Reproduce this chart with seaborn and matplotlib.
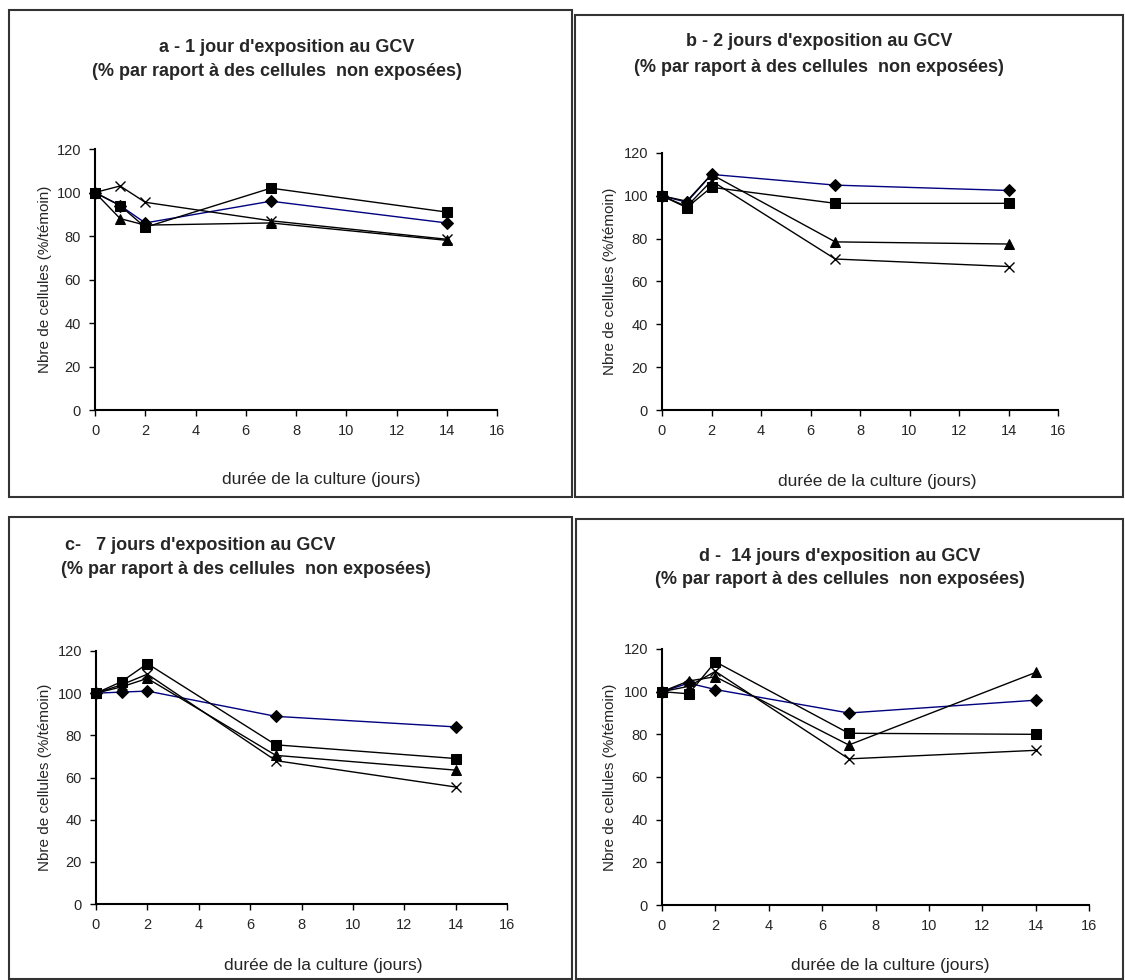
import matplotlib
matplotlib.use("Agg")
import matplotlib.pyplot as plt
import seaborn as sns
from matplotlib.patches import Rectangle

# Données (% par rapport au témoin)
jours = [0, 1, 2, 7, 14]

a_losange = [100, 94, 86, 96, 86]
a_carre = [100, 94, 84, 102, 91]
a_triangle = [100, 88, 85, 86, 78]
a_croix = [100, 103, 95.5, 87, 78.5]

b_losange = [100, 97, 110, 105, 102.5]
b_carre = [100, 94.5, 104, 96.5, 96.5]
b_triangle = [100, 97.5, 110, 78.5, 77.5]
b_croix = [100, 95, 107, 70.5, 67]

c_losange = [100, 100.5, 101, 89, 84]
c_carre = [100, 105.5, 114, 75.5, 69]
c_triangle = [100, 103, 107, 70.5, 63.5]
c_croix = [100, 104, 109, 68, 55.5]

d_losange = [100, 104, 101, 90, 96]
d_carre = [100, 99, 114, 80.5, 80]
d_triangle = [100, 105, 107, 75, 109]
d_croix = [100, 102.5, 109.5, 68.5, 72.5]

titres_l1 = ["a - 1 jour d'exposition au GCV",
             "b - 2 jours d'exposition au GCV",
             "c-   7 jours d'exposition au GCV",
             "d -  14 jours d'exposition au GCV"]
titre_l2 = "(% par raport à des cellules  non exposées)"

sns.set_style("white")
plt.rcParams['font.family'] = ['Liberation Sans', 'DejaVu Sans']

W, H = 1125, 980
fig = plt.figure(figsize=(W / 100, H / 100), dpi=100)

def fx(px):
    return px / W

def fy(py):
    return 1 - py / H

# cadres des panneaux (pixels: gauche, haut, droite, bas)
cadres = [(9, 10, 572, 497), (575, 15, 1123, 497),
          (9, 517, 572, 979), (576, 519, 1123, 979)]
for l, t, r, b in cadres:
    fig.add_artist(Rectangle((fx(l), fy(b)), fx(r - l), (b - t) / H,
                             transform=fig.transFigure, fill=False,
                             edgecolor='#333333', linewidth=1.5))

# position des axes (pixels: x0, x16, y0, y120)
axes_px = [(95, 497, 410, 149), (662, 1058, 410, 153),
           (96, 507, 904, 651), (662, 1089, 905, 649)]
# titres (pixels: x ligne 1, y ligne 1, x ligne 2, y ligne 2)
titres_pos = [(287, 48, 277, 72), (819, 42, 819, 67),
              (200, 545, 246, 569), (840, 556, 840, 579)]
# étiquettes des axes (pixels: x xlabel, y xlabel, x ylabel)
labels_pos = [(321, 479, 45), (877, 481, 610),
              (323, 965, 45), (890, 965, 610)]

donnees = [(a_losange, a_carre, a_triangle, a_croix),
           (b_losange, b_carre, b_triangle, b_croix),
           (c_losange, c_carre, c_triangle, c_croix),
           (d_losange, d_carre, d_triangle, d_croix)]

for i, (series, (x0, x1, y0, y1)) in enumerate(zip(donnees, axes_px)):
    ax = fig.add_axes([fx(x0), fy(y0), (x1 - x0) / W, (y0 - y1) / H])
    los, car, tri, cro = series
    sns.lineplot(x=jours, y=los, ax=ax, color='#000080', lw=1, marker='D',
                 ms=6, mfc='black', mec='black', clip_on=False)
    sns.lineplot(x=jours, y=car, ax=ax, color='black', lw=1, marker='s',
                 ms=7.5, mfc='black', mec='black', clip_on=False)
    sns.lineplot(x=jours, y=tri, ax=ax, color='black', lw=1, marker='^',
                 ms=7.5, mfc='black', mec='black', clip_on=False)
    sns.lineplot(x=jours, y=cro, ax=ax, color='black', lw=1, marker='x',
                 ms=7, mew=1, mec='black', clip_on=False)
    ax.set_xlim(0, 16)
    ax.set_ylim(0, 120)
    ax.set_xticks(range(0, 17, 2))
    ax.set_yticks(range(0, 121, 20))
    for s in ['top', 'right']:
        ax.spines[s].set_visible(False)
    for s in ['left', 'bottom']:
        ax.spines[s].set_color('black')
        ax.spines[s].set_linewidth(1.5)
    ax.tick_params(direction='out', length=4, width=1, color='black',
                   labelsize=10.5, pad=6, left=True, bottom=True)

    lx, ly, yx = labels_pos[i]
    ax.set_xlabel("durée de la culture (jours)", fontsize=12.5)
    ax.xaxis.label.set_va('center')
    ax.xaxis.set_label_coords((lx - x0) / (x1 - x0), (y0 - ly) / (y0 - y1))
    ax.set_ylabel("Nbre de cellules (%/témoin)", fontsize=11)
    ax.yaxis.label.set_va('center')
    ax.yaxis.set_label_coords((yx - x0) / (x1 - x0), 0.5)

    tx1, ty1, tx2, ty2 = titres_pos[i]
    fig.text(fx(tx1), fy(ty1), titres_l1[i], ha='center', va='center',
             fontsize=13, fontweight='bold')
    fig.text(fx(tx2), fy(ty2), titre_l2, ha='center', va='center',
             fontsize=13, fontweight='bold')

plt.savefig("out.png", dpi=100)
plt.close()
